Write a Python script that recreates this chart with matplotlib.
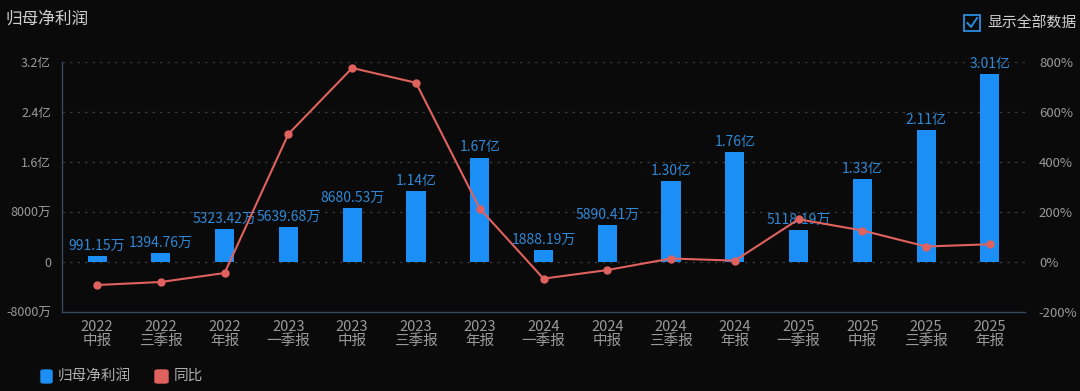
import matplotlib
matplotlib.use("Agg")
import matplotlib.pyplot as plt
from matplotlib.patches import Rectangle, FancyBboxPatch
from matplotlib.lines import Line2D

plt.rcParams['font.family'] = ['Noto Sans CJK SC', 'DejaVu Sans']

years = ["2022", "2022", "2022", "2023", "2023", "2023", "2023", "2024", "2024", "2024", "2024", "2025", "2025", "2025", "2025"]
periods = ["中报", "三季报", "年报", "一季报", "中报", "三季报", "年报", "一季报", "中报", "三季报", "年报", "一季报", "中报", "三季报", "年报"]
profit_wan = [991.15, 1394.76, 5323.42, 5639.68, 8680.53, 11400, 16700, 1888.19, 5890.41, 13000, 17600, 5118.19, 13300, 21100, 30100]
yoy_pct = [-92, -80, -44, 512, 776, 717, 214, -66.5, -32.2, 14, 5.4, 171, 126, 62, 71]
left_ticks = [-8000, 0, 8000, 16000, 24000, 32000]
left_tick_labels = ["-8000万", "0", "8000万", "1.6亿", "2.4亿", "3.2亿"]
right_ticks = [-200, 0, 200, 400, 600, 800]
right_tick_labels = ["-200%", "0%", "200%", "400%", "600%", "800%"]

BG = "#0a0a0a"
BAR = "#1b8ff5"
LINE = "#e0625e"
LABEL = "#2f88d6"
TICK = "#9a9a9a"
GRID = "#3a3a3a"
AXIS = "#34495e"

def fmt(v):
    if v >= 10000:
        return f"{v/10000:.2f}亿"
    return f"{v:.2f}万"

fig = plt.figure(figsize=(10.8, 3.91), dpi=100, facecolor=BG)
ax = fig.add_axes([62/1080, 79/391, (1025-62)/1080, 250/391])
ax.set_facecolor(BG)
x = list(range(len(profit_wan)))

ax.bar(x, profit_wan, width=0.3, color=BAR, zorder=2)
for xi, v in zip(x, profit_wan):
    ax.text(xi, v + 500, fmt(v), ha="center", va="bottom", color=LABEL, fontsize=10, zorder=3)

ax.set_xlim(-0.55, len(x) - 0.45)
ax.set_ylim(-8000, 32000)
ax.set_yticks(left_ticks)
ax.set_yticklabels(left_tick_labels)
ax.set_xticks(x)
ax.set_xticklabels([f"{y}\n{p}" for y, p in zip(years, periods)], linespacing=1.0)
ax.tick_params(axis="y", colors=TICK, labelsize=9, length=0, pad=8)
ax.tick_params(axis="x", colors=TICK, labelsize=10.5, length=0, pad=6)
for t in ax.get_xticklabels() + ax.get_yticklabels():
    t.set_color(TICK)
for yv in left_ticks[1:]:
    ax.axhline(yv, color=GRID, linestyle=(0, (2, 4)), linewidth=0.9, zorder=1)
for s in ["top", "right"]:
    ax.spines[s].set_visible(False)
ax.spines["left"].set_color(AXIS)
ax.spines["bottom"].set_color(AXIS)
ax.spines["left"].set_linewidth(1.0)
ax.spines["bottom"].set_linewidth(1.0)

ax2 = ax.twinx()
ax2.set_ylim(-200, 800)
ax2.plot(x, yoy_pct, color=LINE, linewidth=1.5, marker="o", markersize=5, zorder=4)
ax2.set_yticks(right_ticks)
ax2.set_yticklabels(right_tick_labels)
ax2.tick_params(axis="y", colors=TICK, labelsize=9.5, length=0, pad=10)
for s in ["top", "right", "left", "bottom"]:
    ax2.spines[s].set_visible(False)
ax2.set_zorder(ax.get_zorder() + 1)
ax2.patch.set_visible(False)

fig.text(5/1080, 1 - 19/391, "归母净利润", color="#d0d0d0", fontsize=12, va="center", ha="left")

# checkbox top right
fig.patches.append(Rectangle((964/1080, 1 - 31/391), 16/1080, 16/391, transform=fig.transFigure,
                             fill=False, edgecolor="#2a8ce0", linewidth=1.3))
fig.lines.append(Line2D([967.5/1080, 971/1080, 977/1080], [1 - 23/391, 1 - 27/391, 1 - 18/391],
                        transform=fig.transFigure, color="#2a8ce0", linewidth=1.4))
fig.text(987/1080, 1 - 23/391, "显示全部数据", color="#d0d0d0", fontsize=10.7, va="center", ha="left")

# legend
fig.patches.append(FancyBboxPatch((41/1080, 1 - 383/391), 11/1080, 13/391, transform=fig.transFigure,
                                  boxstyle="round,pad=0,rounding_size=0.003", color=BAR))
fig.text(58/1080, 1 - 376/391, "归母净利润", color="#b0b0b0", fontsize=10.5, va="center", ha="left")
fig.patches.append(FancyBboxPatch((155/1080, 1 - 383/391), 13/1080, 13/391, transform=fig.transFigure,
                                  boxstyle="round,pad=0,rounding_size=0.003", color=LINE))
fig.text(174/1080, 1 - 376/391, "同比", color="#b0b0b0", fontsize=10.5, va="center", ha="left")

fig.savefig("out.png", dpi=100, facecolor=BG)
